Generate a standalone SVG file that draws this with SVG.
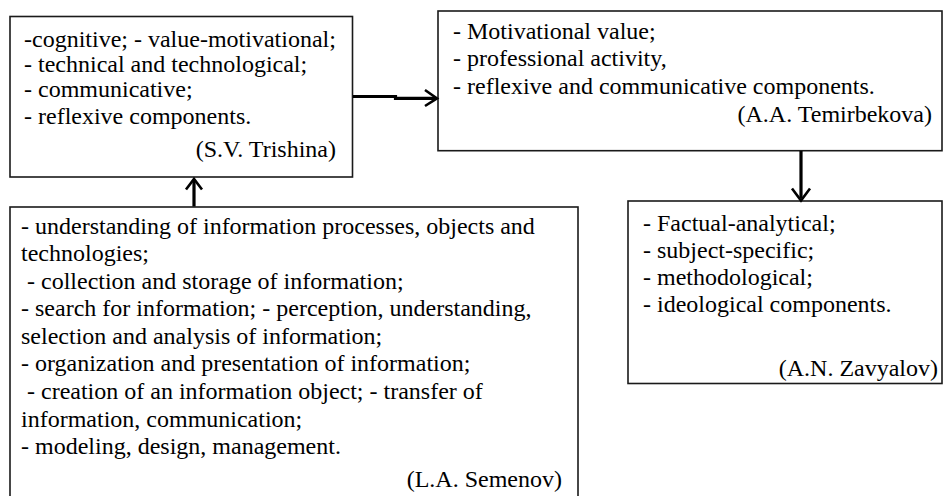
<svg xmlns="http://www.w3.org/2000/svg" width="943" height="496" viewBox="0 0 943 496">
  <style>
    .box { fill: #ffffff; stroke: #1a1a1a; stroke-width: 1.6; }
    .txt { font-family: "Liberation Serif", "Times New Roman", serif; font-size: 24px; fill: #000000; }
    .end { text-anchor: end; }
    .wire { fill: none; stroke: #000000; stroke-width: 3.2; }
    .head { fill: none; stroke: #000000; stroke-width: 2.6; stroke-linejoin: miter; }
  </style>
  <rect x="0" y="0" width="943" height="496" fill="#ffffff"/>

  <!-- Trishina: components of competence -->
  <g id="node-trishina">
    <rect class="box" x="10" y="16.5" width="342.5" height="160.5"/>
    <text class="txt" x="24" y="47">-cognitive; - value-motivational;</text>
    <text class="txt" x="24" y="72">- technical and technological;</text>
    <text class="txt" x="24" y="97">- communicative;</text>
    <text class="txt" x="24" y="124">- reflexive components.</text>
    <text class="txt end" x="336" y="157">(S.V. Trishina)</text>
  </g>

  <!-- Temirbekova -->
  <g id="node-temirbekova">
    <rect class="box" x="438" y="11" width="504" height="139.7"/>
    <text class="txt" x="453" y="38.5">- Motivational value;</text>
    <text class="txt" x="453" y="66">- professional activity,</text>
    <text class="txt" x="453" y="93.5">- reflexive and communicative components.</text>
    <text class="txt end" x="932" y="121.5">(A.A. Temirbekova)</text>
  </g>

  <!-- Semenov: information competences -->
  <g id="node-semenov">
    <rect class="box" x="10" y="207" width="568" height="300"/>
    <text class="txt" x="21" y="233.5">- understanding of information processes, objects and</text>
    <text class="txt" x="21" y="261">technologies;</text>
    <text class="txt" x="27" y="288.5">- collection and storage of information;</text>
    <text class="txt" x="21" y="316">- search for information; - perception, understanding,</text>
    <text class="txt" x="21" y="343.5">selection and analysis of information;</text>
    <text class="txt" x="21" y="371">- organization and presentation of information;</text>
    <text class="txt" x="27" y="399">- creation of an information object; - transfer of</text>
    <text class="txt" x="21" y="426.5">information, communication;</text>
    <text class="txt" x="21" y="454">- modeling, design, management.</text>
    <text class="txt end" x="562" y="486.5">(L.A. Semenov)</text>
  </g>

  <!-- Zavyalov -->
  <g id="node-zavyalov">
    <rect class="box" x="628" y="201" width="314" height="182.5"/>
    <text class="txt" x="643" y="230.5">- Factual-analytical;</text>
    <text class="txt" x="643" y="257.5">- subject-specific;</text>
    <text class="txt" x="643" y="284.5">- methodological;</text>
    <text class="txt" x="643" y="311.5">- ideological components.</text>
    <text class="txt end" x="938" y="376">(A.N. Zavyalov)</text>
  </g>

  <!-- connectors -->
  <g id="connectors">
    <!-- Trishina to Temirbekova -->
    <path class="wire" d="M353 96.5 H395.5 V98.4 H436"/>
    <path class="head" d="M425 90 L437 98.4 L425 106"/>
    <!-- Semenov up to Trishina -->
    <path class="wire" d="M194 206.5 V181"/>
    <path class="head" d="M186 189.5 L194 179 L202 189.5"/>
    <!-- Temirbekova down to Zavyalov -->
    <path class="wire" d="M801 151 V198"/>
    <path class="head" d="M792 188.5 L801 200.5 L810 188.5"/>
  </g>
</svg>
